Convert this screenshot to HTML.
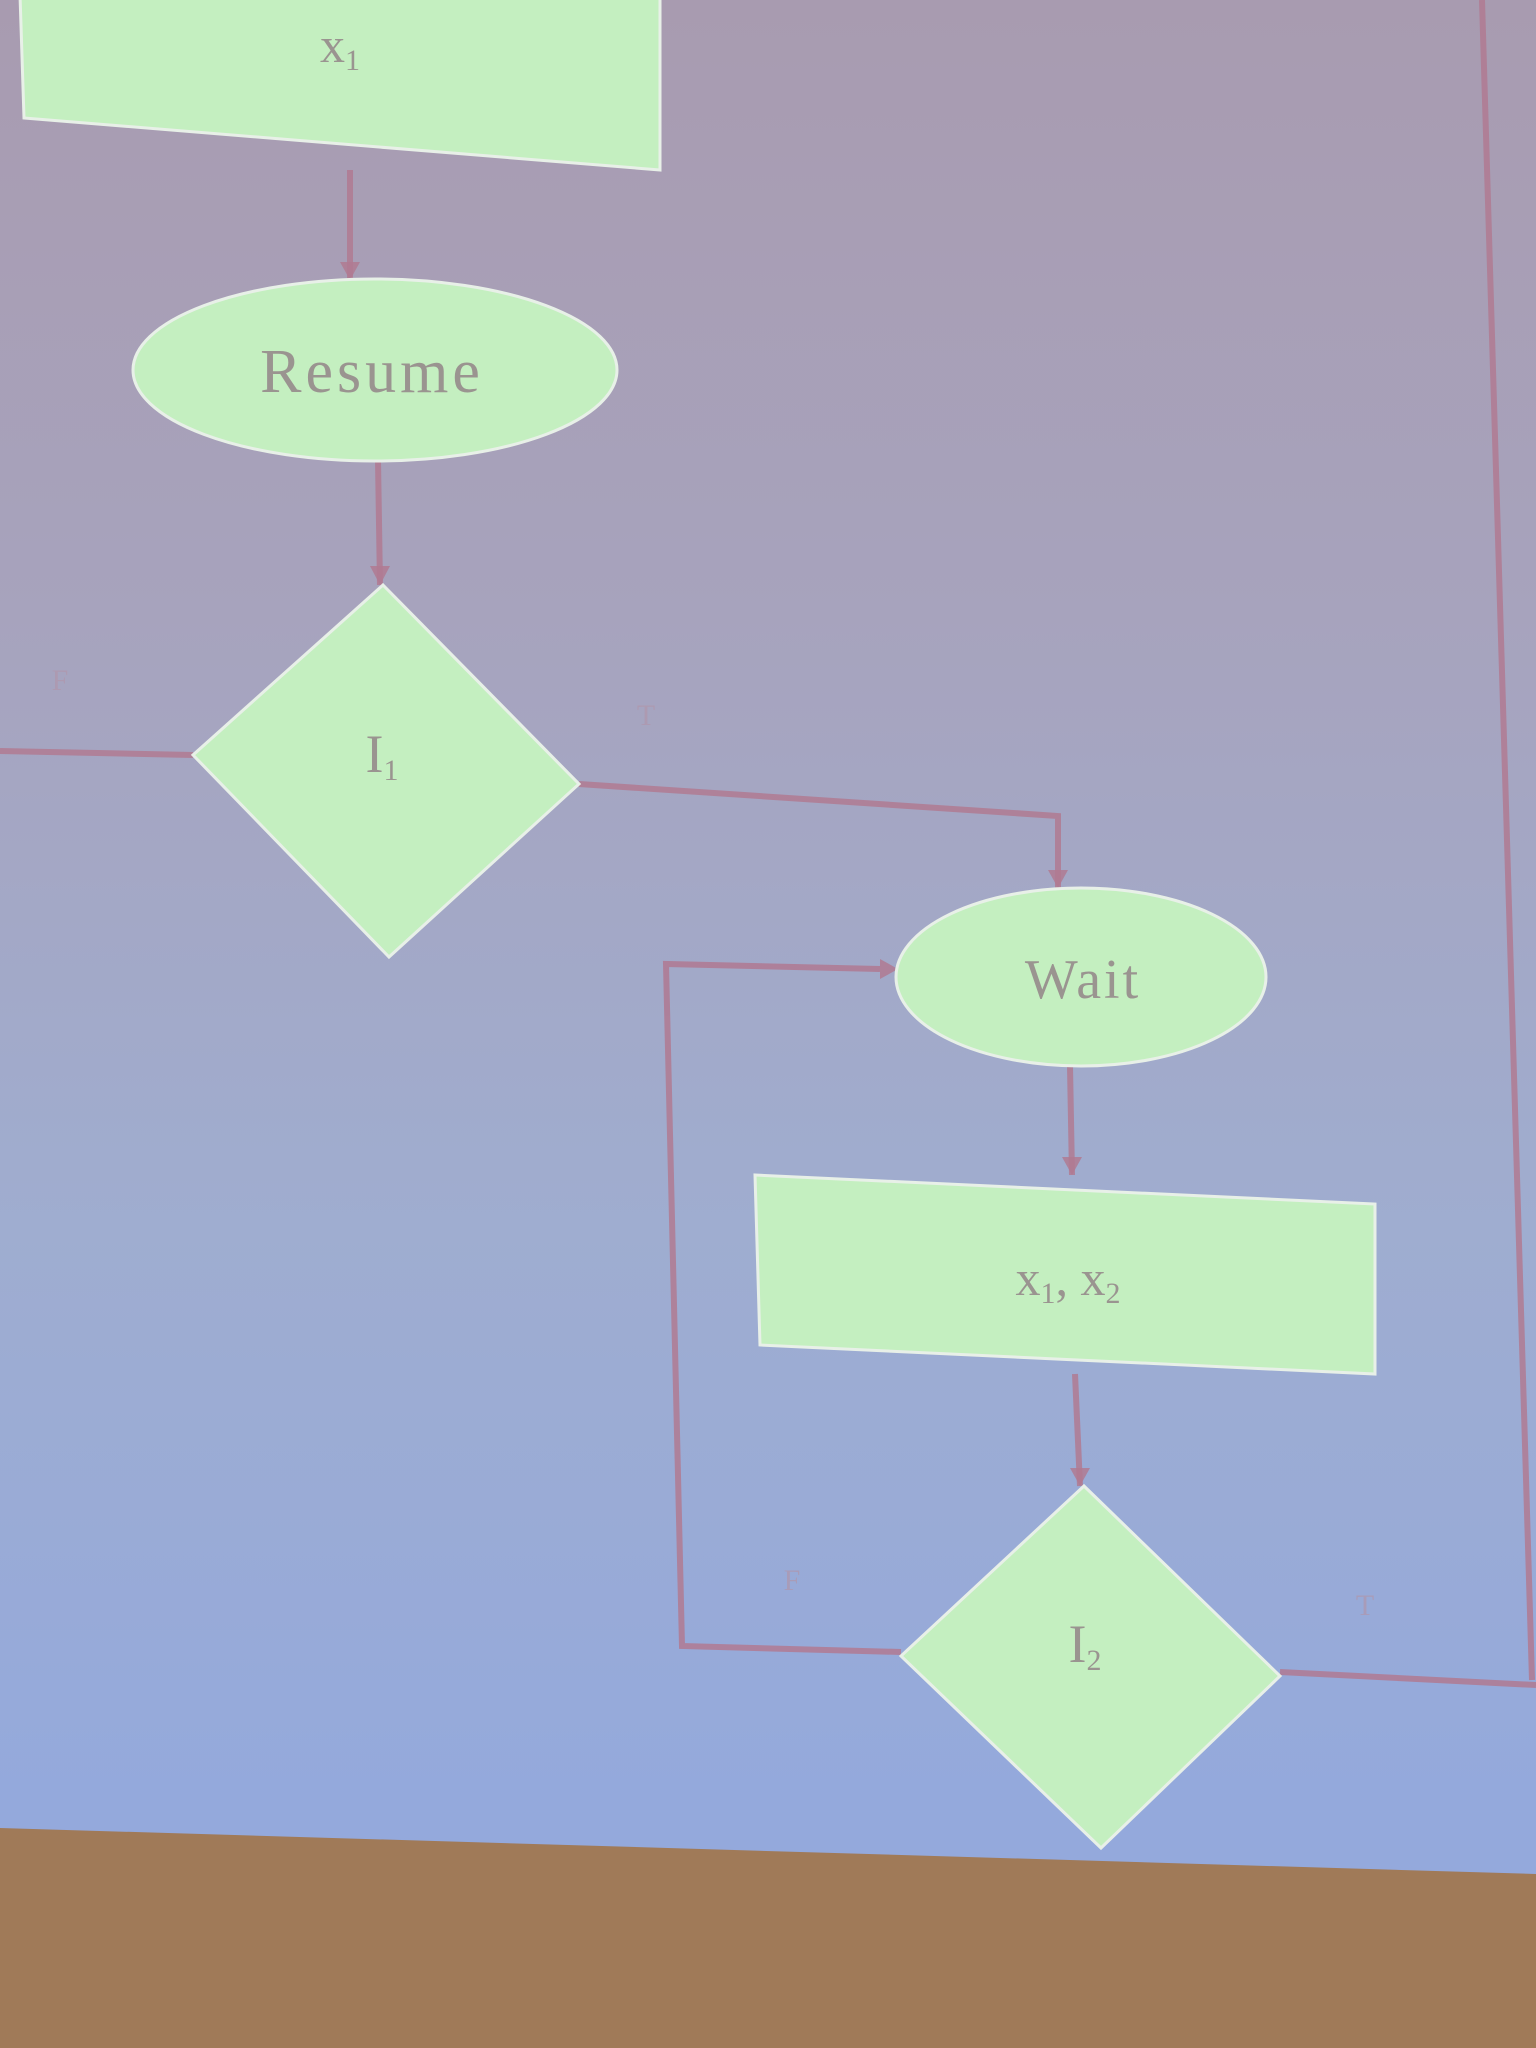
<!DOCTYPE html>
<html><head><meta charset="utf-8"><style>
html,body{margin:0;padding:0}
body{width:1536px;height:2048px;overflow:hidden;background:linear-gradient(180deg,#a89bb0 0%,#a7a3bd 30%,#9fadd0 60%,#94a9dc 88%);font-family:"Liberation Serif",serif}
</style></head><body>
<svg width="1536" height="2048" viewBox="0 0 1536 2048" style="position:absolute;left:0;top:0">
<polygon points="0,1828 1536,1874 1536,2048 0,2048" fill="#a07a58"/>
<g stroke="#b07a92" stroke-width="6" fill="none" opacity="0.85">
<line x1="350" y1="170" x2="350" y2="280"/>
<line x1="378" y1="460" x2="380" y2="585"/>
<line x1="0" y1="751" x2="193" y2="755"/>
<polyline points="579,784 1058,816 1058,888"/>
<line x1="1070" y1="1066" x2="1072" y2="1175"/>
<line x1="1075" y1="1374" x2="1080" y2="1486"/>
<polyline points="901,1652 682,1646 666,964 880,969"/>
<line x1="1280" y1="1672" x2="1536" y2="1685"/>
<line x1="1482" y1="0" x2="1532" y2="1680"/>
</g>
<g fill="#b07a92" opacity="0.85">
<polygon points="340,262 360,262 350,280"/>
<polygon points="370,566 390,566 380,585"/>
<polygon points="1048,870 1068,870 1058,888"/>
<polygon points="1062,1157 1082,1157 1072,1175"/>
<polygon points="1070,1468 1090,1468 1080,1486"/>
<polygon points="880,959 898,969 880,979"/>
</g>
<g fill="#c4efc0" stroke="#e8f0e8" stroke-width="3">
<polygon points="20,-5 660,-5 660,170 24,118"/>
<ellipse cx="375" cy="370" rx="242" ry="91"/>
<polygon points="383,585 579,784 389,957 193,755"/>
<ellipse cx="1081" cy="977" rx="185" ry="89"/>
<polygon points="755,1175 1375,1204 1375,1374 760,1345"/>
<polygon points="1084,1486 1280,1676 1101,1848 901,1656"/>
</g>
<g fill="#9a9490" font-size="50" text-anchor="middle">
<text x="340" y="62">x<tspan font-size="30" dy="8">1</tspan></text>
<text x="372" y="392" font-size="62" letter-spacing="4">Resume</text>
<text x="382" y="772" font-size="54">I<tspan font-size="30" dy="8">1</tspan></text>
<text x="1083" y="998" font-size="56" letter-spacing="3">Wait</text>
<text x="1068" y="1295">x<tspan font-size="30" dy="8">1</tspan><tspan dy="-8">, x</tspan><tspan font-size="30" dy="8">2</tspan></text>
<text x="1085" y="1662" font-size="54">I<tspan font-size="30" dy="8">2</tspan></text>
</g>
<g fill="#b096ac" font-size="30" text-anchor="middle" opacity="0.7">
<text x="60" y="690">F</text>
<text x="646" y="725">T</text>
<text x="792" y="1590">F</text>
<text x="1365" y="1615">T</text>
</g>
</svg>
</body></html>
